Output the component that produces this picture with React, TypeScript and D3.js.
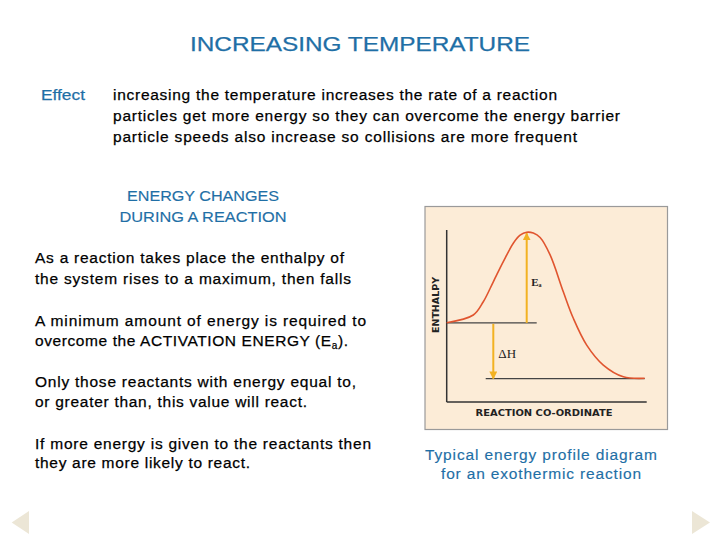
import React from "react";
import * as d3 from "d3";

// ---------- Data ----------
const reactionCoord = [0, 13.3, 18.3, 23.3, 28.3, 33.3, 36.7, 40, 43.3, 46.7, 51.7, 58.3, 63.3, 70, 78.3, 88.3, 99];
const enthalpy = [46.1, 50.6, 58.3, 69.9, 81.6, 92.3, 97.0, 98.7, 98.2, 95.6, 85.5, 64.1, 48.7, 33.1, 21.5, 14.7, 13.8];
const reactantLevel = 46;
const productLevel = 13.6;
const peakLevel = 98.7;
const peakCoord = 40;
const reactantLineEnd = 45;
const productLineStart = 19.5;
const dHCoord = 23.3;

const titleText = "INCREASING TEMPERATURE";
const effectLabel = "Effect";
const effectLines = [
  "increasing the temperature increases the rate of a reaction",
  "particles get more energy so they can overcome the energy barrier",
  "particle speeds also increase so collisions are more frequent",
];
const subTitleLines = ["ENERGY CHANGES", "DURING A REACTION"];
const paragraphs = [
  ["As a reaction takes place the enthalpy of", "the system rises to a maximum, then falls"],
  ["A minimum amount of energy is required to", "overcome the ACTIVATION ENERGY (E|a|)."],
  ["Only those reactants with energy equal to,", "or greater than, this value will react."],
  ["If more energy is given to the reactants then", "they are more likely to react."],
];
const captionLines = ["Typical energy profile diagram", "for an exothermic reaction"];
const xAxisLabel = "REACTION CO-ORDINATE";
const yAxisLabel = "ENTHALPY";

// ---------- Layout ----------
const BLUE = "#1f6fa6";
const FONT = "'Liberation Sans', Arial, sans-serif";
const FS = 15.5;
const HEAVY = 0.25;

const effectWidths = [444, 507, 464];
const effectBaselines = [100, 121, 142];
const subBaselines = [201, 222];
const subCenter = 203;
const subWidths = [152, 167];
const paraBaselines = [[263, 284], [326, 346], [387, 407], [449, 468]];
const paraWidths = [[309, 316], [331, 313], [321, 272], [336, 215]];
const captionBaselines = [460, 479];
const captionWidths = [232, 200];

export default function App() {
  const x = d3.scaleLinear().domain([0, 100]).range([446.7, 646.7]);
  const y = d3.scaleLinear().domain([0, 100]).range([402, 230]);
  const pts: [number, number][] = reactionCoord.map((c, i) => [c, enthalpy[i]]);
  const line = d3
    .line<[number, number]>()
    .x((d) => x(d[0]))
    .y((d) => y(d[1]))
    .curve(d3.curveCatmullRom.alpha(0.5));

  const arrowColor = "#f2b222";

  return (
    <svg
      width={720}
      height={540}
      style={{ position: "absolute", left: 0, top: 0, background: "#ffffff" }}
      fontFamily={FONT}
    >
      <defs>
        <marker id="ah" viewBox="0 0 10 10" refX="9" refY="5" markerWidth="4" markerHeight="4" orient="auto">
          <path d="M0,0 L10,5 L0,10 z" fill={arrowColor} />
        </marker>
      </defs>

      {/* Title */}
      <text x={360} y={51} textAnchor="middle" fontSize={20} fill={BLUE} stroke={BLUE} strokeWidth={HEAVY} textLength={340} lengthAdjust="spacingAndGlyphs">
        {titleText}
      </text>

      {/* Effect block */}
      <text x={41} y={effectBaselines[0]} fontSize={FS} fill={BLUE} stroke={BLUE} strokeWidth={HEAVY} textLength={44} lengthAdjust="spacingAndGlyphs">
        {effectLabel}
      </text>
      {effectLines.map((t, i) => (
        <text key={i} x={113} y={effectBaselines[i]} fontSize={FS} fill="#000" stroke="#000" strokeWidth={HEAVY} textLength={effectWidths[i]} lengthAdjust="spacing">
          {t}
        </text>
      ))}

      {/* Subtitle */}
      {subTitleLines.map((t, i) => (
        <text key={i} x={subCenter} y={subBaselines[i]} textAnchor="middle" fontSize={FS} fill={BLUE} stroke={BLUE} strokeWidth={HEAVY * 0.6} textLength={subWidths[i]} lengthAdjust="spacingAndGlyphs">
          {t}
        </text>
      ))}

      {/* Paragraphs */}
      {paragraphs.map((p, pi) =>
        p.map((t, li) => {
          if (t.includes("|")) {
            const [a, sub, b] = t.split("|");
            return (
              <text key={`${pi}-${li}`} x={35} y={paraBaselines[pi][li]} fontSize={FS} fill="#000" stroke="#000" strokeWidth={HEAVY} textLength={paraWidths[pi][li]} lengthAdjust="spacing">
                {a}
                <tspan fontSize={10} dy={3}>{sub}</tspan>
                <tspan dy={-3}>{b}</tspan>
              </text>
            );
          }
          return (
            <text key={`${pi}-${li}`} x={35} y={paraBaselines[pi][li]} fontSize={FS} fill="#000" stroke="#000" strokeWidth={HEAVY} textLength={paraWidths[pi][li]} lengthAdjust="spacing">
              {t}
            </text>
          );
        })
      )}

      {/* Caption */}
      {captionLines.map((t, i) => (
        <text key={i} x={541} y={captionBaselines[i]} textAnchor="middle" fontSize={FS} fill={BLUE} stroke={BLUE} strokeWidth={HEAVY * 0.6} textLength={captionWidths[i]} lengthAdjust="spacing">
          {t}
        </text>
      ))}

      {/* Diagram panel */}
      <rect x={425} y={206.5} width={242.5} height={223} fill="#fcecd7" stroke="#9a9a9a" strokeWidth={1.2} />
      {/* axes */}
      <line x1={x(0)} y1={y(100)} x2={x(0)} y2={y(0)} stroke="#333" strokeWidth={1.5} />
      <line x1={x(0)} y1={y(0)} x2={x(100)} y2={y(0)} stroke="#333" strokeWidth={1.5} />
      {/* levels */}
      <line x1={x(0)} y1={y(reactantLevel)} x2={x(reactantLineEnd)} y2={y(reactantLevel)} stroke="#444" strokeWidth={1.3} />
      <line x1={x(productLineStart)} y1={y(productLevel)} x2={x(99)} y2={y(productLevel)} stroke="#444" strokeWidth={1.3} />
      {/* arrows */}
      <line x1={x(peakCoord)} y1={y(reactantLevel)} x2={x(peakCoord)} y2={y(peakLevel) + 1} stroke={arrowColor} strokeWidth={2} markerEnd="url(#ah)" />
      <line x1={x(dHCoord)} y1={y(reactantLevel) + 1} x2={x(dHCoord)} y2={y(productLevel)} stroke={arrowColor} strokeWidth={2} markerEnd="url(#ah)" />
      {/* curve */}
      <path d={line(pts) || ""} fill="none" stroke="#e0552f" strokeWidth={1.6} />
      {/* labels */}
      <text x={x(peakCoord) + 4.5} y={286} fontFamily="'Liberation Serif', 'Times New Roman', serif" fontSize={11} fill="#222" fontWeight="bold">
        E<tspan fontSize={6} dy={1}>a</tspan>
      </text>
      <text x={x(dHCoord) + 5} y={358} fontFamily="'Liberation Serif', 'Times New Roman', serif" fontSize={13} fill="#222">
        ΔH
      </text>
      <text
        transform={`translate(439,305) rotate(-90)`}
        textAnchor="middle"
        fontFamily="'DejaVu Sans', Verdana, sans-serif"
        fontWeight="bold"
        fontSize={8.5}
        fill="#222"
        textLength={56}
        lengthAdjust="spacingAndGlyphs"
      >
        {yAxisLabel}
      </text>
      <text
        x={544}
        y={416}
        textAnchor="middle"
        fontFamily="'DejaVu Sans', Verdana, sans-serif"
        fontWeight="bold"
        fontSize={9}
        fill="#222"
        textLength={137}
        lengthAdjust="spacingAndGlyphs"
      >
        {xAxisLabel}
      </text>

      {/* nav triangles */}
      <path d="M11.7,522.5 L29,511 L29,534 Z" fill="#ece6d6" />
      <path d="M710,522.5 L692,511 L692,534 Z" fill="#ece6d6" />
    </svg>
  );
}
